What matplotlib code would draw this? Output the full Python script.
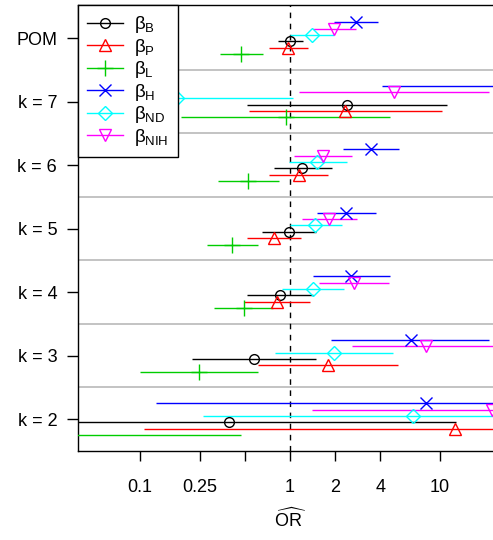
import matplotlib
matplotlib.use("Agg")
import matplotlib.pyplot as plt
from matplotlib.lines import Line2D
import numpy as np

plt.rcParams['font.family'] = ['Liberation Sans', 'DejaVu Sans']
plt.rcParams['mathtext.fontset'] = 'custom'
plt.rcParams['mathtext.rm'] = 'Liberation Sans'
plt.rcParams['mathtext.it'] = 'Liberation Sans'

# groups from bottom to top
groups = ['k = 2', 'k = 3', 'k = 4', 'k = 5', 'k = 6', 'k = 7', 'POM']

# odds ratio estimates and CI per estimator, same order as groups
B_est = [0.392, 0.575, 0.858, 0.99, 1.21, 2.40, 1.0]
B_lo = [0.02, 0.221, 0.514, 0.654, 0.782, 0.52, 0.83]
B_hi = [12.7, 1.49, 1.43, 1.49, 1.90, 11.2, 1.215]

P_est = [12.5, 1.79, 0.823, 0.786, 1.15, 2.34, 0.97]
P_lo = [0.106, 0.615, 0.494, 0.52, 0.728, 0.536, 0.725]
P_hi = [400, 5.22, 1.36, 1.18, 1.80, 10.3, 1.31]

L_est = [0.02, 0.247, 0.491, 0.409, 0.527, 0.936, 0.469]
L_lo = [0.001, 0.1, 0.31, 0.28, 0.33, 0.188, 0.341]
L_hi = [0.469, 0.609, 0.774, 0.609, 0.849, 4.64, 0.658]

H_est = [8.02, 6.37, 2.54, 2.36, 3.47, 30, 2.74]
H_lo = [0.128, 1.88, 1.43, 1.51, 2.27, 4.08, 1.95]
H_hi = [500, 21.3, 4.64, 3.73, 5.3, 200, 3.84]

ND_est = [6.64, 1.98, 1.42, 1.47, 1.51, 0.176, 1.40]
ND_lo = [0.262, 0.80, 0.889, 1.0, 0.982, 0.01, 1.0]
ND_hi = [200, 4.83, 2.29, 2.21, 2.39, 1.05, 1.97]

NIH_est = [22.1, 8.07, 2.68, 1.82, 1.65, 4.91, 1.98]
NIH_lo = [1.40, 2.60, 1.57, 1.20, 1.06, 1.148, 1.42]
NIH_hi = [300, 30, 4.59, 2.78, 2.60, 21.1, 2.74]

xticks = [0.1, 0.25, 0.5, 1, 2, 4, 10]
xticklabels = ['0.1', '0.25', '', '1', '2', '4', '10']

series = [
    ('B', B_est, B_lo, B_hi, 'black', 'o', 7, -0.05),
    ('P', P_est, P_lo, P_hi, 'red', '^', 8.5, -0.15),
    ('L', L_est, L_lo, L_hi, '#00CD00', '+', 11, -0.25),
    ('H', H_est, H_lo, H_hi, 'blue', 'x', 8.5, 0.25),
    ('ND', ND_est, ND_lo, ND_hi, 'cyan', 'D', 7, 0.05),
    ('NIH', NIH_est, NIH_lo, NIH_hi, 'magenta', 'v', 8.5, 0.15),
]

fig = plt.figure(figsize=(4.93, 5.4), dpi=100)
ax = fig.add_axes([78 / 493, 1 - 451 / 540, 1 - 78 / 493, 446 / 540])

ypos = np.arange(1, len(groups) + 1)

for y in ypos[:-1] + 0.5:
    ax.axhline(y, color='#BEBEBE', lw=1.3, zorder=1)
ax.axvline(1, color='black', lw=1, ls=(0, (4, 4)), zorder=2)

handles = []
for name, est, lo, hi, col, mk, ms, off in series:
    yy = ypos + off
    ax.hlines(yy, lo, hi, color=col, lw=1, zorder=3)
    ax.plot(est, yy, ls='none', marker=mk, ms=ms, mfc='none', mec=col, mew=1, zorder=4)
    handles.append(Line2D([], [], color=col, lw=1, marker=mk, ms=ms, mfc='none', mec=col,
                          label=r'$\beta_{\mathrm{%s}}$' % name))

ax.set_xscale('log')
ax.set_xlim(10 ** ((78 - 290) / 150), 10 ** ((493 - 290) / 150))
ax.set_ylim(0.5, 7.52)
ax.set_xticks(xticks)
ax.set_xticklabels(xticklabels)
ax.xaxis.set_minor_locator(matplotlib.ticker.NullLocator())
ax.set_yticks(ypos)
ax.set_yticklabels(groups)
ax.tick_params(axis='x', length=7, width=1, pad=13, labelsize=13)
ax.tick_params(axis='y', length=8, width=1, pad=7, labelsize=13)
ax.spines['right'].set_visible(False)
for s in ['left', 'bottom', 'top']:
    ax.spines[s].set_linewidth(1)

ax.set_xlabel(r'$\widehat{\mathrm{OR}}$', fontsize=13)
ax.xaxis.set_label_coords((290 - 78) / 415, -0.128)

leg = ax.legend(handles=handles, loc='upper left', bbox_to_anchor=(0, 1),
                fontsize=13.5, frameon=True, fancybox=False, framealpha=1,
                edgecolor='black', handlelength=1.9, labelspacing=0.08,
                borderaxespad=0, handletextpad=0.6, borderpad=0.5)
leg.get_frame().set_linewidth(1)
leg.set_zorder(10)

fig.savefig('out.png', dpi=100)
